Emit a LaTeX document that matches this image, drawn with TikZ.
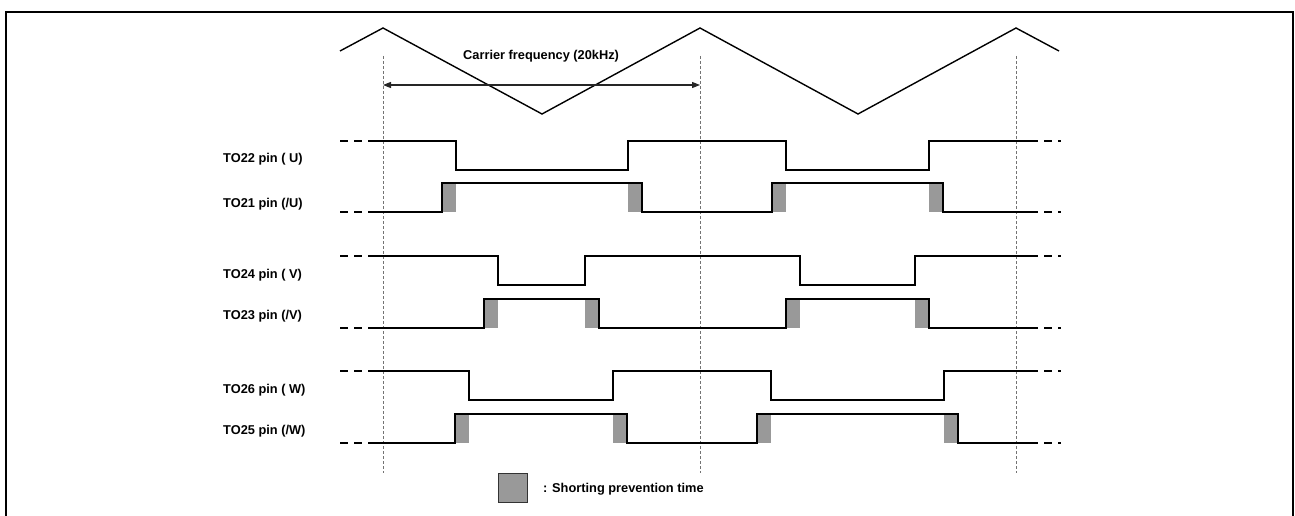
\documentclass[tikz,border=0pt]{standalone}
\usepackage{fontspec}
\setmainfont{Liberation Sans}
\usetikzlibrary{arrows.meta}
\begin{document}
\begin{tikzpicture}[x=1pt,y=-1pt,
  frameline/.style={line width=2pt,line join=miter},
  carrier/.style={line width=1.4pt,line join=miter},
  sig/.style={line width=2.8pt,line join=miter},
  sigend/.style={line width=2.8pt,dash pattern=on 8pt off 6pt},
  guide/.style={line width=0.8pt,black!55,dash pattern=on 3pt off 2pt},
  dead/.style={fill=black!40,draw=none},
  span/.style={line width=1.1pt,black!85,{Triangle[length=8pt,width=6pt]}-{Triangle[length=8pt,width=6pt]}},
  lbl/.style={anchor=base west,inner sep=0pt,font=\fontsize{12.8}{15}\selectfont\bfseries}]
\useasboundingbox (0,0) rectangle (1295,516);

% outer frame (open at the bottom)
\draw[frameline] (6,520) -- (6,12) -- (1293,12) -- (1293,520);

% carrier triangle wave
\draw[carrier] (340,51) -- (383,28) -- (542,114) -- (700,28) -- (858,114) -- (1016,28) -- (1059,51);

% period guides
\foreach \gx/\gn in {383/g1,700/g2,1016/g3}{
  \coordinate (\gn top) at (\gx,56);
  \coordinate (\gn bot) at (\gx,473);
  \draw[guide] (\gn top) -- (\gn bot);
}
\coordinate (pa) at (383,85);
\coordinate (pb) at (700,85);
\draw[span] (pa) -- (pb);
\node[lbl] (carrierlbl) at (463,60) {Carrier frequency (20kHz)};

% shorting prevention intervals
\foreach \xa/\xb/\ya/\yb in {
  442/456/183/212, 628/642/183/212, 772/786/183/212, 929/943/183/212,
  484/498/299/328, 585/599/299/328, 786/800/299/328, 915/929/299/328,
  455/469/414/443, 613/627/414/443, 757/771/414/443, 944/958/414/443}{
  \fill[dead] (\xa,\ya) rectangle (\xb,\yb);
}

% phase U
\draw[sig] (369,141) -| (456,170) -| (628,141) -| (786,170) -| (929,141) -- (1030,141);
\draw[sig] (369,212) -| (442,183) -| (642,212) -| (772,183) -| (943,212) -- (1030,212);
% phase V
\draw[sig] (369,256) -| (498,285) -| (585,256) -| (800,285) -| (915,256) -- (1030,256);
\draw[sig] (369,328) -| (484,299) -| (599,328) -| (786,299) -| (929,328) -- (1030,328);
% phase W
\draw[sig] (369,371) -| (469,400) -| (613,371) -| (771,400) -| (944,371) -- (1030,371);
\draw[sig] (369,443) -| (455,414) -| (627,443) -| (757,414) -| (958,443) -- (1030,443);

% continuation dashes at both ends
\foreach \yy in {141,212,256,328,371,443}{
  \draw[sigend] (340,\yy) -- (369,\yy);
  \draw[sigend] (1030,\yy) -- (1061,\yy);
}

% pin labels
\node[lbl] (u)  at (223,162) {TO22 pin ( U)};
\node[lbl] (nu) at (223,207) {TO21 pin (/U)};
\node[lbl] (v)  at (223,278) {TO24 pin ( V)};
\node[lbl] (nv) at (223,319) {TO23 pin (/V)};
\node[lbl] (w)  at (223,393) {TO26 pin ( W)};
\node[lbl] (nw) at (223,434) {TO25 pin (/W)};

% legend
\draw[fill=black!40,draw=black!80,line width=0.8pt] (498,473) rectangle (527,502);
\node[lbl] (legend) at (543,492) {: Shorting prevention time};
\end{tikzpicture}
\end{document}
